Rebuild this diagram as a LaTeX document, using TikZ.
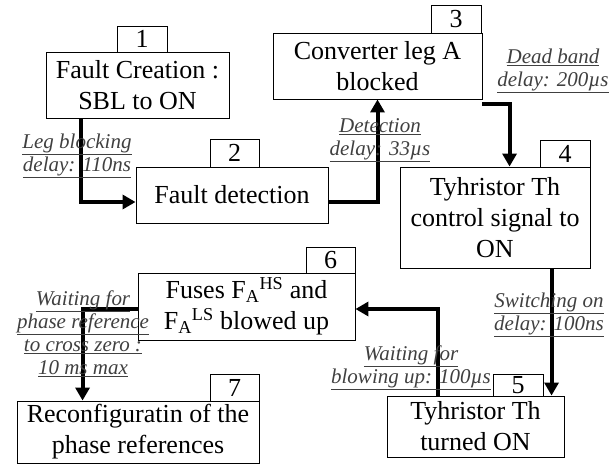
\documentclass[tikz,border=0pt]{standalone}
\usepackage{fontspec}
\setmainfont{Liberation Serif}
\usetikzlibrary{arrows.meta}
\definecolor{lblgray}{HTML}{404040}
\tikzset{
  box/.style={draw=black, line width=0.9pt, fill=white, inner sep=0pt, align=center,
    font=\fontsize{26}{31}\selectfont},
  tag/.style={draw=black, line width=0.9pt, fill=white, inner sep=0pt, align=center,
    font=\fontsize{26}{26}\selectfont},
  lbl/.style={inner sep=0pt, align=center, text=lblgray,
    font=\fontsize{21}{23}\selectfont\itshape},
  arr/.style={line width=4pt, -{Triangle[length=13pt,width=14pt]}},
}
\newcommand{\ul}[1]{\underline{#1}}
\begin{document}
\begin{tikzpicture}[x=1pt,y=-1pt]
\useasboundingbox (0,0) rectangle (614,471);
% boxes
\node[box, minimum width=183pt, minimum height=66pt] (b1) at (137.5,85) {Fault Creation :\\SBL to ON};
\node[tag, minimum width=50pt, minimum height=26pt] (t1) at (142,39) {1};
\node[box, minimum width=192pt, minimum height=56pt] (b2) at (232,195) {Fault detection};
\node[tag, minimum width=49pt, minimum height=28pt] (t2) at (234.5,153) {2};
\node[box, minimum width=209pt, minimum height=66pt] (b3) at (377.5,66) {Converter leg A\\blocked};
\node[tag, minimum width=50pt, minimum height=28pt] (t3) at (456,19) {3};
\node[box, minimum width=190pt, minimum height=101pt] (b4) at (495,217.5) {Tyhristor Th\\control signal to\\ON};
\node[tag, minimum width=50pt, minimum height=27pt] (t4) at (565,153.5) {4};
\node[box, minimum width=177pt, minimum height=61pt] (b5) at (475.5,426.5) {Tyhristor Th\\turned ON};
\node[tag, minimum width=50pt, minimum height=22pt] (t5) at (518,385) {5};
\node[box, minimum width=217pt, minimum height=67pt] (b6) at (246.5,306.5) {Fuses F\textsubscript{A}\textsuperscript{HS} and\\F\textsubscript{A}\textsuperscript{LS} blowed up};
\node[tag, minimum width=49pt, minimum height=26pt] (t6) at (330.5,260) {6};
\node[box, minimum width=242pt, minimum height=62pt] (b7) at (138,432) {Reconfiguratin of the\\phase references};
\node[tag, minimum width=49pt, minimum height=27pt] (t7) at (234.5,387.5) {7};
% helper coordinates
\coordinate (s12) at ([xshift=35pt]b1.south west);
\coordinate (e12) at ([yshift=-7pt]b2.west);
\coordinate (s23) at ([yshift=-7pt]b2.east);
\coordinate (s34) at ([yshift=-5pt]b3.south east);
\coordinate (e34) at ([xshift=110pt]b4.north west);
\coordinate (s45) at ([xshift=152pt]b4.south west);
\coordinate (s56) at ([xshift=51pt]b5.north west);
\coordinate (e56) at ([yshift=-2.5pt]b6.east);
\coordinate (s67) at ([yshift=-2.5pt]b6.west);
\coordinate (e67) at ([xshift=66pt]b7.north west);
% connectors
\draw[arr] (s12) |- (e12);
\draw[arr] (s23) -| (b3.south);
\draw[arr] (s34) -| (e34);
\draw[arr] (s45) -- (s45 |- b5.north);
\draw[arr] (s56) |- (e56);
\draw[arr] (s67) -| (e67);
% labels
\node[lbl] (l12) at (77,156) {\ul{Leg blocking}\\\ul{delay: 110ns}};
\node[lbl] (l23) at (380,140) {\ul{Detection}\\\ul{delay: 33µs}};
\node[lbl] (l34) at (553,71) {\ul{Dead band}\\\ul{delay: 200µs}};
\node[lbl] (l45) at (549,315) {\ul{Switching on}\\\ul{delay: 100ns}};
\node[lbl] (l56) at (411,368) {\ul{Waiting for}\\\ul{blowing up: 100µs}};
\node[lbl] (l67) at (83,334) {\ul{Waiting for}\\\ul{phase reference}\\\ul{to cross zero :}\\\ul{10 ms max}};
\end{tikzpicture}
\end{document}
